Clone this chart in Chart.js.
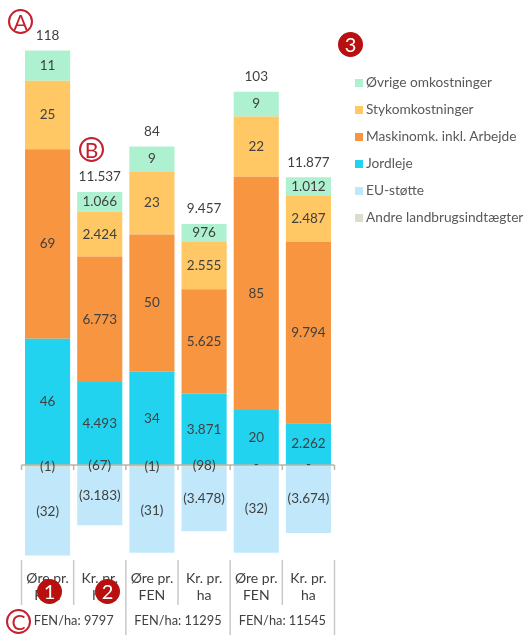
<!DOCTYPE html>
<html lang="da">
<head>
<meta charset="utf-8">
<title>Omkostninger</title>
<script src="https://cdn.jsdelivr.net/npm/chart.js@4"></script>
<style>
    html, body { margin: 0; padding: 0; background: #fff; }
    #wrap { position: relative; width: 524px; height: 635px; overflow: hidden; font-family: Lato, sans-serif; }
    canvas { position: absolute; left: 0; top: 0; }
    .ring, .dot { position: absolute; width: 25px; height: 25px; border-radius: 50%; text-align: center; box-sizing: border-box; }
    .ring { border: 2px solid #c5202e; color: #c5202e; font-size: 21px; line-height: 21px; background: #fff; }
    .dot { background: #b80f0f; color: #fff; font-size: 20px; line-height: 25px; }
    #legend { position: absolute; left: 355px; top: 68px; white-space: nowrap; color: #595959; font-size: 13.7px; }
    #legend div { height: 27px; line-height: 27px; }
    #legend span { display: inline-block; width: 8px; height: 8px; margin-right: 3px; }
</style>
</head>
<body>
<div id="wrap">
    <canvas id="chart" width="524" height="635"></canvas>
    <div id="legend"></div>
    <div class="ring" style="left:8px;top:9px;">A</div>
    <div class="ring" style="left:79px;top:137px;">B</div>
    <div class="ring" style="left:6px;top:609px;">C</div>
    <div class="dot" style="left:37px;top:579px;">1</div>
    <div class="dot" style="left:95px;top:579px;">2</div>
    <div class="dot" style="left:338px;top:32px;">3</div>
</div>
<script>
const categories = [
    ['Øre pr.', 'FEN'], ['Kr. pr.', 'ha'],
    ['Øre pr.', 'FEN'], ['Kr. pr.', 'ha'],
    ['Øre pr.', 'FEN'], ['Kr. pr.', 'ha']
];
const groupLabels = ['FEN/ha: 9797', 'FEN/ha: 11295', 'FEN/ha: 11545'];

// Øre-søjlerne er på ulige pladser, kr-søjlerne på lige
const ovrige = [11, 1066, 9, 976, 9, 1012];
const styk = [25, 2424, 23, 2555, 22, 2487];
const maskin = [69, 6773, 50, 5625, 85, 9794];
const jordleje = [46, 4493, 34, 3871, 20, 2262];
const euStotte = [-32, -3183, -31, -3478, -32, -3674];
const andre = [-1, -67, -1, -98, 0, 0];
const totals = [118, 11537, 84, 9457, 103, 11877];

const legendNames = ['Øvrige omkostninger', 'Stykomkostninger', 'Maskinomk. inkl. Arbejde', 'Jordleje', 'EU-støtte', 'Andre landbrugsindtægter'];
const legendColors = ['#aef1d0', '#ffc864', '#f89540', '#22d3f0', '#c1e8fa', '#dcdccf'];

const textColor = '#404040';
const tickFont = { family: 'Lato, sans-serif', size: 14 };
const labelFont = { family: 'Lato, sans-serif', size: 13.5 };
const groupFont = { family: 'Lato, sans-serif', size: 12.8 };

document.getElementById('legend').innerHTML = legendNames.map((name, i) =>
    `<div><span style="background:${legendColors[i]}"></span>${name}</div>`
).join('');

function formatValue(v) {
    if (v === 0) return '-';
    const txt = String(Math.abs(v)).replace(/\B(?=(\d{3})+$)/g, '.');
    return v < 0 ? `(${txt})` : txt;
}

// Stablingsrækkefølge: nederst først, og negative fra nul og ned
const stackOrder = [
    { data: andre, color: legendColors[5], name: legendNames[5] },
    { data: euStotte, color: legendColors[4], name: legendNames[4] },
    { data: jordleje, color: legendColors[3], name: legendNames[3] },
    { data: maskin, color: legendColors[2], name: legendNames[2] },
    { data: styk, color: legendColors[1], name: legendNames[1] },
    { data: ovrige, color: legendColors[0], name: legendNames[0] }
];

function makeDataset(serie, axisId, rest) {
    return {
        label: serie.name,
        data: serie.data.map((v, i) => i % 2 === rest ? v : null),
        backgroundColor: serie.color,
        yAxisID: axisId,
        barPercentage: 0.865,
        categoryPercentage: 1
    };
}
const datasets = [
    ...stackOrder.map(s => makeDataset(s, 'yOre', 0)),
    ...stackOrder.map(s => makeDataset(s, 'yKr', 1))
];

const labelsPlugin = {
    id: 'labelsPlugin',
    afterDraw(chart) {
        const { ctx, scales } = chart;
        const x = scales.x;
        const area = chart.chartArea;
        const slot = x.getPixelForTick(1) - x.getPixelForTick(0);
        const zero = scales.yOre.getPixelForValue(0);

        ctx.save();

        // Nullinje med små streger
        ctx.strokeStyle = '#b9b5a8';
        ctx.lineWidth = 1.5;
        ctx.beginPath();
        ctx.moveTo(area.left, zero);
        ctx.lineTo(area.right, zero);
        for (let i = 0; i <= categories.length; i++) {
            const px = area.left + i * slot;
            ctx.moveTo(px, zero);
            ctx.lineTo(px, zero + 5);
        }
        ctx.stroke();

        // Skillelinjer under søjlerne
        ctx.strokeStyle = '#c9c9c9';
        ctx.lineWidth = 1.5;
        ctx.beginPath();
        for (let i = 0; i <= categories.length; i++) {
            const px = area.left + i * slot;
            ctx.moveTo(px, area.bottom);
            ctx.lineTo(px, i % 2 === 0 && i > 0 ? 635 : 605);
        }
        ctx.stroke();

        ctx.font = `${labelFont.size}px ${labelFont.family}`;
        ctx.textAlign = 'center';
        ctx.textBaseline = 'middle';
        ctx.fillStyle = textColor;

        // Tal i søjlerne
        chart.data.datasets.forEach((ds, d) => {
            chart.getDatasetMeta(d).data.forEach((bar, i) => {
                if (ds.data[i] === null) return;
                const p = bar.getCenterPoint();
                ctx.fillText(formatValue(ds.data[i]), p.x, p.y);
            });
        });

        // Totaler over søjlerne
        totals.forEach((total, i) => {
            const axis = i % 2 === 0 ? scales.yOre : scales.yKr;
            const top = ovrige[i] + styk[i] + maskin[i] + jordleje[i];
            ctx.fillText(formatValue(total), x.getPixelForTick(i), axis.getPixelForValue(top) - 15);
        });

        // FEN/ha under hver gruppe
        ctx.font = `${groupFont.size}px ${groupFont.family}`;
        groupLabels.forEach((txt, g) => {
            ctx.fillText(txt, area.left + (g * 2 + 1) * slot, 621);
        });
        ctx.restore();
    }
};

new Chart(document.getElementById('chart').getContext('2d'), {
    type: 'bar',
    data: { labels: categories, datasets: datasets },
    options: {
        responsive: false,
        animation: false,
        layout: { padding: { left: 21.5, right: 189.5, top: 0, bottom: 0 } },
        plugins: { legend: { display: false }, tooltip: { enabled: false } },
        scales: {
            x: {
                stacked: true,
                grid: { display: false },
                border: { display: false },
                ticks: { color: textColor, font: tickFont, maxRotation: 0, autoSkip: false, padding: 2, labelOffset: 0 },
                afterFit: scale => { scale.height = 75; }
            },
            yOre: { display: false, stacked: true, min: -34.6, max: 169.4 },
            yKr: { display: false, stacked: true, min: -5135, max: 25135 }
        }
    },
    plugins: [labelsPlugin]
});
</script>
</body>
</html>
